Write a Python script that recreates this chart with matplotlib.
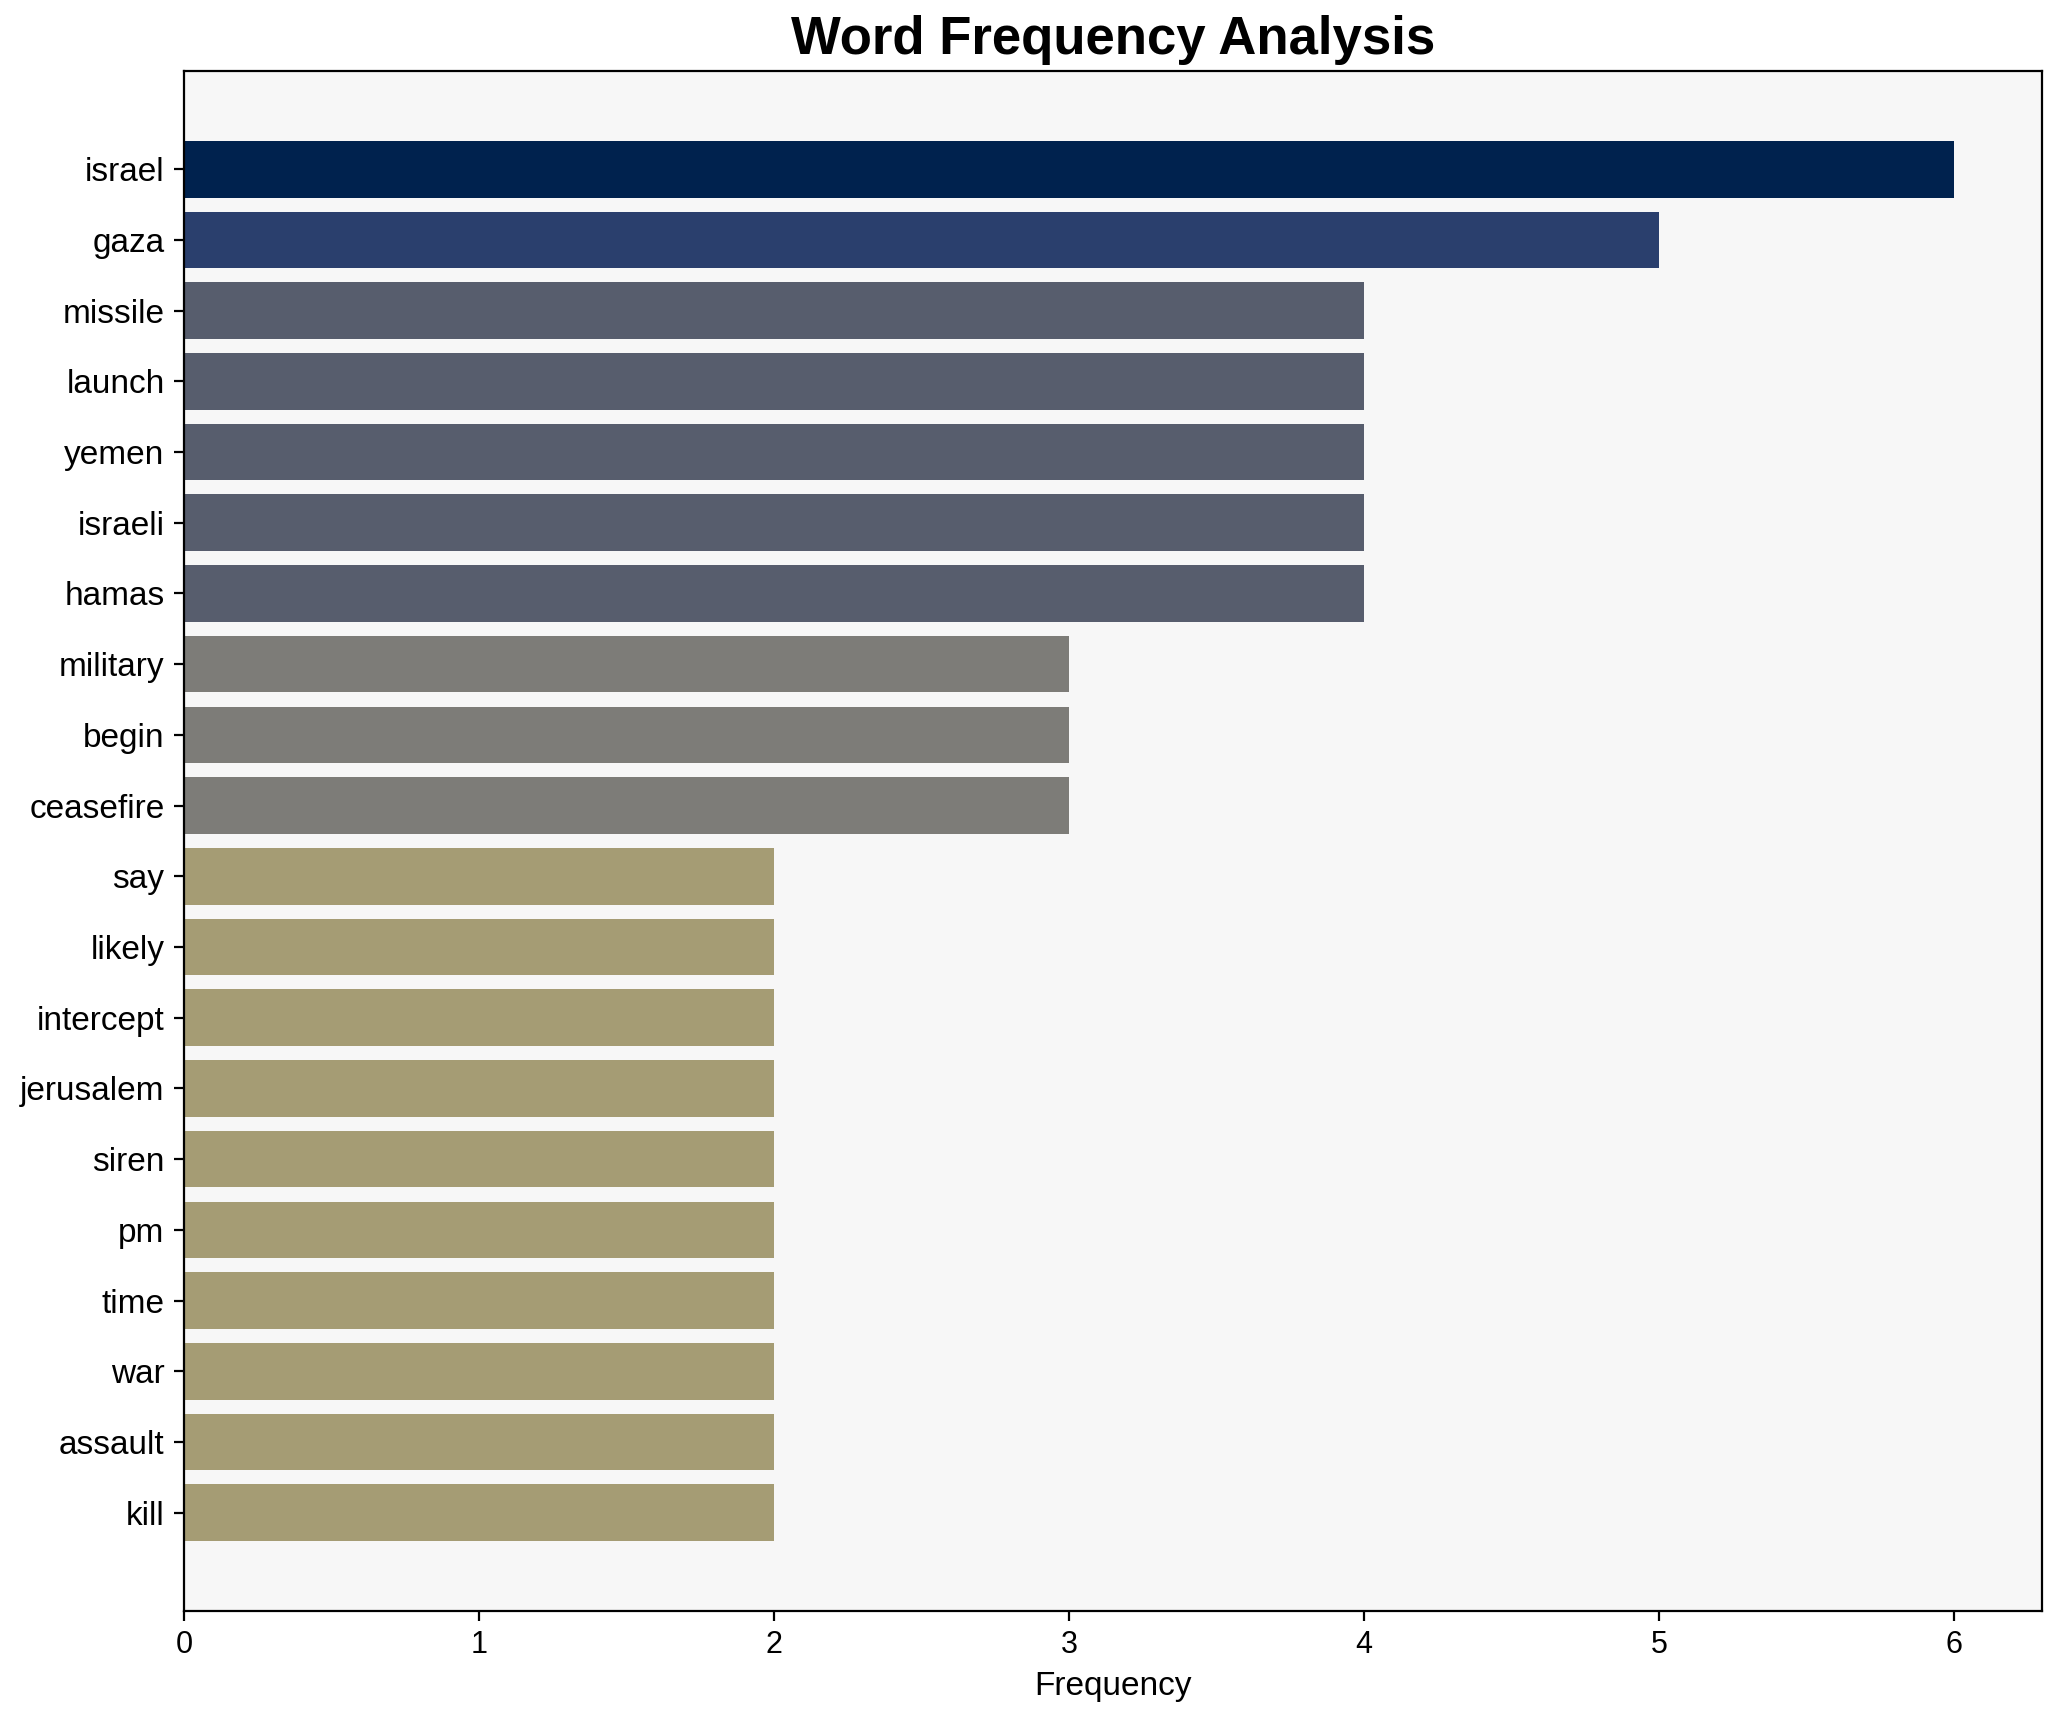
import numpy as np
import matplotlib
matplotlib.use("Agg")
import matplotlib.pyplot as plt

plt.rcParams['font.family'] = ['Liberation Sans', 'DejaVu Sans']

words = ["israel", "gaza", "missile", "launch", "yemen", "israeli", "hamas",
         "military", "begin", "ceasefire", "say", "likely", "intercept",
         "jerusalem", "siren", "pm", "time", "war", "assault", "kill"]
counts = [6, 5, 4, 4, 4, 4, 4, 3, 3, 3, 2, 2, 2, 2, 2, 2, 2, 2, 2, 2]

fig, ax = plt.subplots(figsize=(10.315, 8.61), dpi=200)
fig.subplots_adjust(left=0.0892, right=0.990, top=0.9588, bottom=0.0645)

vals = np.array(counts)
colors = plt.cm.cividis(1 - vals / vals.max())
y = np.arange(len(words))
ax.barh(y, vals, height=0.8, color=colors)
ax.set_yticks(y)
ax.set_yticklabels(words, fontsize=12)
ax.invert_yaxis()
ax.tick_params(axis='x', labelsize=11)
ax.set_xlabel("Frequency", fontsize=12)
ax.set_title("Word Frequency Analysis", fontsize=19, fontweight='bold')
ax.set_facecolor('#f7f7f7')

fig.savefig("out.png", dpi=200)
